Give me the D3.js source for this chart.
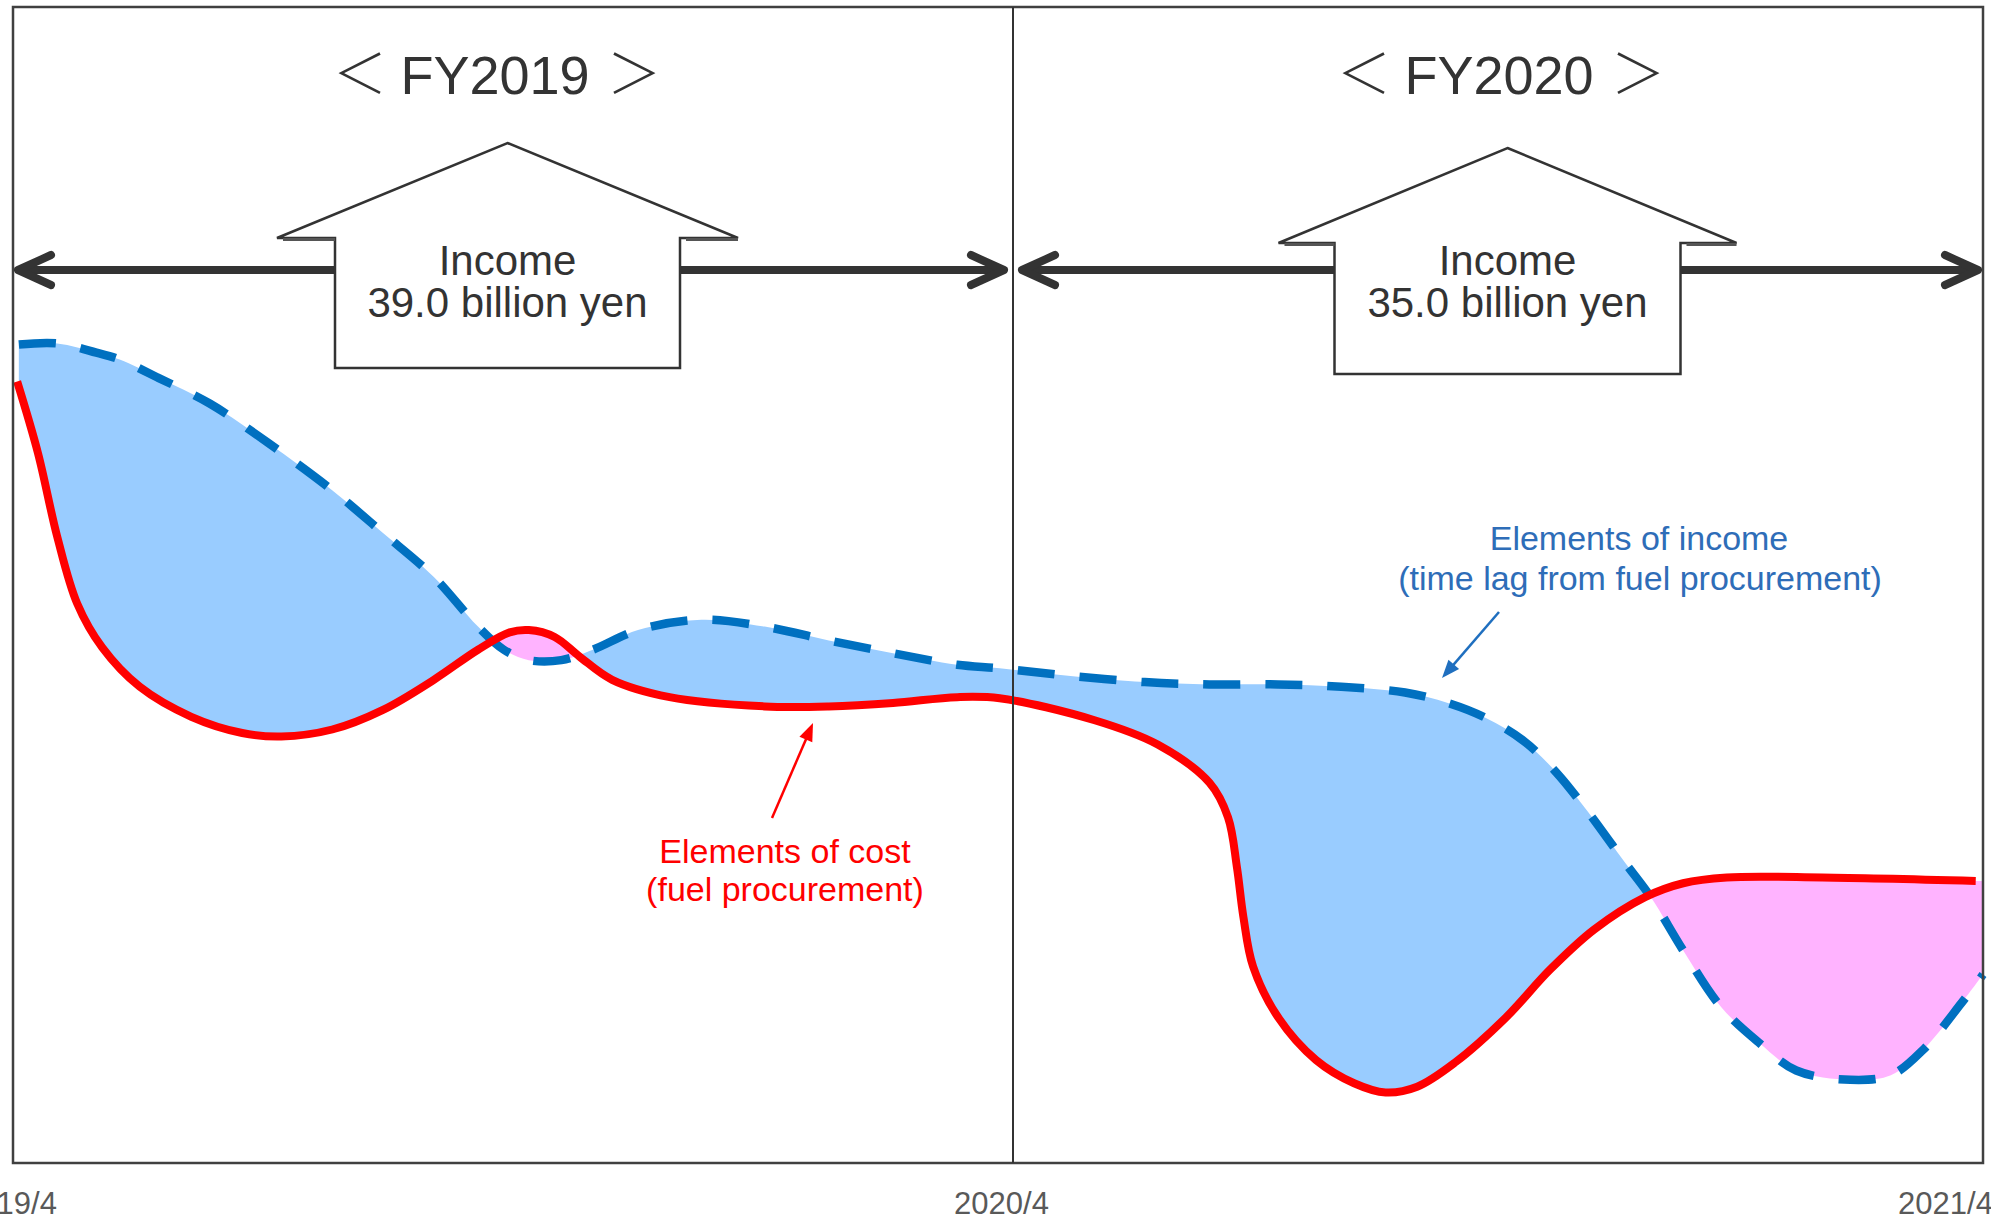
<!DOCTYPE html>
<html>
<head>
<meta charset="utf-8">
<script src="https://cdn.jsdelivr.net/npm/d3@7"></script>
<style>
  html, body { margin: 0; padding: 0; background: #fff; overflow: hidden; }
  svg { display: block; }
</style>
</head>
<body>
<svg id="chart" width="1991" height="1221"></svg>
<script>
// Time axis: months counted from April 2019 (0 = 2019/4, 12 = 2020/4, 24 = 2021/4)
const tickMonths = [0, 12, 24];
const tickLabels = ["2019/4", "2020/4", "2021/4"];

// Fiscal years and the income recorded in each
const fiscalYears = ["FY2019", "FY2020"];
const incomeBillionYen = [39.0, 35.0];

// Elements of income (time lag from fuel procurement), relative level
const incomeMonths = [0.07, 0.53, 1.0, 1.28, 1.75, 2.36, 3.06, 3.83, 4.44, 5.05, 5.58, 5.89, 6.19, 6.58, 6.96,
  7.5, 8.26, 9.02, 9.79, 10.56, 11.33, 11.84, 12.62, 13.63, 14.43, 15.28, 16.06, 16.85, 17.38, 17.85,
  18.32, 18.72, 19.11, 19.58, 19.89, 20.29, 20.76, 21.23, 21.69, 22.36, 22.86, 23.26, 23.73, 24.0];
const incomeLevel = [70.8, 70.9, 70.1, 69.5, 67.9, 65.7, 62.3, 58.2, 54.5, 50.7, 46.4, 44.4, 43.5, 43.5, 44.4,
  46.1, 47.0, 46.4, 45.2, 44.1, 43.1, 42.8, 42.2, 41.6, 41.4, 41.4, 41.2, 40.7, 39.8, 38.5,
  36.5, 33.8, 30.4, 25.9, 23.0, 18.4, 13.5, 10.4, 8.0, 7.2, 7.6, 9.8, 13.8, 16.3];

// Elements of cost (fuel procurement), relative level
const costMonths = [0.05, 0.3, 0.53, 0.77, 1.07, 1.52, 2.14, 2.75, 3.22, 3.83, 4.44, 5.05, 5.58, 5.96, 6.19,
  6.5, 6.8, 7.19, 7.88, 9.02, 9.79, 10.56, 11.33, 11.84, 13.01, 13.79, 14.43, 14.66, 14.77, 14.85,
  14.97, 15.28, 15.75, 16.22, 16.61, 17.0, 17.47, 18.1, 18.64, 19.19, 19.82, 20.29, 20.83, 22.01, 23.91];
const costLevel = [67.6, 61.4, 54.2, 48.4, 44.6, 41.2, 38.6, 37.2, 36.9, 37.5, 39.2, 41.8, 44.4, 45.9, 46.1,
  45.5, 43.8, 41.8, 40.3, 39.5, 39.5, 39.8, 40.3, 40.2, 38.3, 36.2, 32.9, 29.9, 25.6, 21.3,
  17.0, 12.6, 8.9, 6.9, 6.1, 6.6, 8.7, 12.6, 16.7, 20.2, 23.0, 24.2, 24.7, 24.7, 24.4];

// ---------------------------------------------------------------- layout
const frame = { left: 13, right: 1983, top: 7, bottom: 1163 };
const FONT = "'Liberation Sans', Arial, sans-serif";
const INK = "#333333";

const svg = d3.select("#chart");
svg.append("rect").attr("width", 1991).attr("height", 1221).attr("fill", "#fff");

const x = d3.scaleLinear().domain([0, 12, 24]).range([frame.left, 1013, frame.right]);
const y = d3.scaleLinear().domain([0, 100]).range([frame.bottom, frame.top]);

const income = incomeMonths.map((m, i) => [m, incomeLevel[i]]);
const cost = costMonths.map((m, i) => [m, costLevel[i]]);
// the cost clip region reaches the right edge of the plot
const costClipPts = cost.concat([[x.domain()[2], cost[cost.length - 1][1]]]);

const curve = d3.curveCatmullRom.alpha(0.5);
const line = d3.line().x(d => x(d[0])).y(d => y(d[1])).curve(curve);

const defs = svg.append("defs");
defs.append("clipPath").attr("id", "above-cost").append("path")
  .attr("d", d3.area().x(d => x(d[0])).y0(frame.top).y1(d => y(d[1])).curve(curve)(costClipPts));
defs.append("clipPath").attr("id", "below-cost").append("path")
  .attr("d", d3.area().x(d => x(d[0])).y0(d => y(d[1])).y1(frame.bottom).curve(curve)(costClipPts));

// income above cost -> blue band
svg.append("path")
  .attr("d", d3.area().x(d => x(d[0])).y0(d => y(d[1])).y1(frame.bottom).curve(curve)(income))
  .attr("clip-path", "url(#above-cost)")
  .attr("fill", "#99CCFF");
// cost above income -> pink band
svg.append("path")
  .attr("d", d3.area().x(d => x(d[0])).y0(frame.top).y1(d => y(d[1])).curve(curve)(income))
  .attr("clip-path", "url(#below-cost)")
  .attr("fill", "#FFB3FF");

// series lines
svg.append("path").attr("d", line(income))
  .attr("fill", "none").attr("stroke", "#0070C0").attr("stroke-width", 8.5)
  .attr("stroke-dasharray", "37 25");
svg.append("path").attr("d", line(cost))
  .attr("fill", "none").attr("stroke", "#FF0000").attr("stroke-width", 8)
  .attr("stroke-linejoin", "round");

// frame and fiscal-year divider
svg.append("rect")
  .attr("x", frame.left).attr("y", frame.top)
  .attr("width", frame.right - frame.left).attr("height", frame.bottom - frame.top)
  .attr("fill", "none").attr("stroke", "#404040").attr("stroke-width", 2.5);
svg.append("line")
  .attr("x1", x(12)).attr("x2", x(12)).attr("y1", frame.top).attr("y2", frame.bottom)
  .attr("stroke", "#333").attr("stroke-width", 2);

// bottom axis labels
const axis = d3.axisBottom(x).tickValues(tickMonths)
  .tickFormat((d, i) => tickLabels[i]).tickSize(0);
const gx = svg.append("g").attr("transform", `translate(0,${frame.bottom})`).call(axis);
gx.select(".domain").remove();
const labelNudge = [-4, -12, -38];
gx.selectAll(".tick text")
  .attr("x", (d, i) => labelNudge[i])
  .attr("y", 51).attr("dy", 0)
  .attr("font-family", FONT).attr("font-size", 31).attr("fill", "#595959");

// ---------------------------------------------------------------- fiscal year spans
const spanY = 270;
const spans = [
  { from: 18, to: 1004 },
  { from: 1022, to: 1978 }
];
const houses = [
  { cx: 507.5, apex: 143, shoulder: 238, bottom: 368, body: 172.5, wing: 230.5, title: 498 },
  { cx: 1507.5, apex: 148, shoulder: 243, bottom: 374, body: 173, wing: 229, title: 1502 }
];

spans.forEach(s => {
  const g = svg.append("g").attr("stroke", INK).attr("stroke-width", 8)
    .attr("fill", "none").attr("stroke-linecap", "round").attr("stroke-linejoin", "round");
  g.append("line").attr("x1", s.from).attr("x2", s.to).attr("y1", spanY).attr("y2", spanY)
    .attr("stroke-linecap", "butt");
  g.append("path").attr("d", `M${s.from + 33},${spanY - 15}L${s.from},${spanY}L${s.from + 33},${spanY + 15}`);
  g.append("path").attr("d", `M${s.to - 33},${spanY - 15}L${s.to},${spanY}L${s.to - 33},${spanY + 15}`);
});

houses.forEach((h, i) => {
  const pts = [
    [h.cx, h.apex], [h.cx + h.wing, h.shoulder], [h.cx + h.body, h.shoulder],
    [h.cx + h.body, h.bottom], [h.cx - h.body, h.bottom], [h.cx - h.body, h.shoulder],
    [h.cx - h.wing, h.shoulder]
  ];
  svg.append("path").attr("d", "M" + pts.join("L") + "Z")
    .attr("fill", "#fff").attr("stroke", INK).attr("stroke-width", 2.5)
    .attr("stroke-linejoin", "miter");
  // shoulder shading
  [[h.cx - h.wing, h.cx - h.body], [h.cx + h.body, h.cx + h.wing]].forEach(([a, b]) => {
    svg.append("line").attr("x1", a + 6).attr("x2", b).attr("y1", h.shoulder + 1.5).attr("y2", h.shoulder + 1.5)
      .attr("stroke", "#555").attr("stroke-width", 3);
  });

  svg.append("text").attr("x", h.cx).attr("y", 275)
    .attr("text-anchor", "middle").attr("font-family", FONT).attr("font-size", 42).attr("fill", INK)
    .text("Income");
  svg.append("text").attr("x", h.cx).attr("y", 317)
    .attr("text-anchor", "middle").attr("font-family", FONT).attr("font-size", 42).attr("fill", INK)
    .text(`${incomeBillionYen[i].toFixed(1)} billion yen`);

  // fiscal year heading
  const t = svg.append("g").attr("fill", INK);
  t.append("text").attr("x", h.title - 138).attr("y", 94).attr("text-anchor", "middle")
    .attr("font-family", "'Noto Sans CJK JP', sans-serif").attr("font-weight", 300)
    .attr("font-size", 54).text("＜");
  t.append("text").attr("x", h.title - 3).attr("y", 94).attr("text-anchor", "middle")
    .attr("font-family", FONT).attr("font-size", 54).text(fiscalYears[i]);
  t.append("text").attr("x", h.title + 136).attr("y", 94).attr("text-anchor", "middle")
    .attr("font-family", "'Noto Sans CJK JP', sans-serif").attr("font-weight", 300)
    .attr("font-size", 54).text("＞");
});

// ---------------------------------------------------------------- annotations
function pointer(x1, y1, x2, y2, color) {
  const dx = x2 - x1, dy = y2 - y1, len = Math.hypot(dx, dy);
  const ux = dx / len, uy = dy / len, nx = -uy, ny = ux;
  const L = 18, W = 7;
  svg.append("line").attr("x1", x1).attr("y1", y1)
    .attr("x2", x2 - ux * L * 0.8).attr("y2", y2 - uy * L * 0.8)
    .attr("stroke", color).attr("stroke-width", 2.5);
  svg.append("path")
    .attr("d", `M${x2},${y2}L${x2 - ux * L + nx * W},${y2 - uy * L + ny * W}L${x2 - ux * L - nx * W},${y2 - uy * L - ny * W}Z`)
    .attr("fill", color);
}

const blueText = "#2E6DB8";
svg.append("text").attr("x", 1639).attr("y", 550).attr("text-anchor", "middle")
  .attr("font-family", FONT).attr("font-size", 34).attr("fill", blueText)
  .text("Elements of income");
svg.append("text").attr("x", 1640).attr("y", 590).attr("text-anchor", "middle")
  .attr("font-family", FONT).attr("font-size", 34).attr("fill", blueText)
  .text("(time lag from fuel procurement)");
pointer(1499, 612, 1442, 678, "#1F6FBF");

svg.append("text").attr("x", 785).attr("y", 863).attr("text-anchor", "middle")
  .attr("font-family", FONT).attr("font-size", 34).attr("fill", "#FF0000")
  .text("Elements of cost");
svg.append("text").attr("x", 785).attr("y", 901).attr("text-anchor", "middle")
  .attr("font-family", FONT).attr("font-size", 34).attr("fill", "#FF0000")
  .text("(fuel procurement)");
pointer(772, 818, 813, 723, "#FF0000");
</script>
</body>
</html>
